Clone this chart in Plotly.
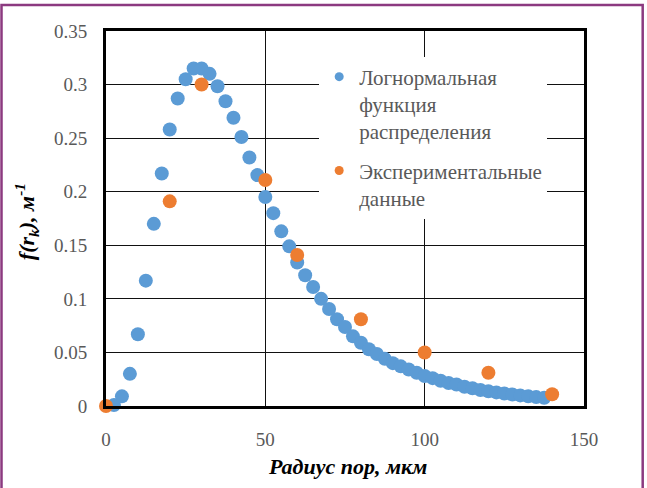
import plotly.graph_objects as go

# Lognormal distribution function (blue)
logn_r = [2.5, 5, 7.5, 10, 12.5, 15, 17.5, 20, 22.5, 25, 27.5, 30, 32.5, 35, 37.5, 40,
          42.5, 45, 47.5, 50, 52.5, 55, 57.5, 60, 62.5, 65, 67.5, 70, 72.5, 75, 77.5,
          80, 82.5, 85, 87.5, 90, 92.5, 95, 97.5, 100, 102.5, 105, 107.5, 110, 112.5,
          115, 117.5, 120, 122.5, 125, 127.5, 130, 132.5, 135, 137.5]
logn_f = [0.001, 0.009, 0.030, 0.067, 0.117, 0.170, 0.217, 0.258, 0.287, 0.305, 0.315,
          0.315, 0.310, 0.2985, 0.2845, 0.269, 0.251, 0.232, 0.2155, 0.195, 0.180, 0.163,
          0.149, 0.134, 0.122, 0.111, 0.100, 0.0905, 0.081, 0.0737, 0.065, 0.059, 0.053,
          0.0485, 0.044, 0.040, 0.037, 0.034, 0.031, 0.028, 0.026, 0.0235, 0.0215, 0.020,
          0.018, 0.0165, 0.015, 0.0138, 0.0127, 0.0117, 0.0108, 0.0099, 0.0091, 0.0083, 0.0076]

# Experimental data (orange)
exp_r = [0, 20, 30, 50, 60, 80, 100, 120, 140]
exp_f = [0.0, 0.191, 0.300, 0.211, 0.141, 0.081, 0.050, 0.031, 0.011]

x_ticks = [0, 50, 100, 150]
y_ticks = [0, 0.05, 0.1, 0.15, 0.2, 0.25, 0.3, 0.35]
y_tick_text = ["0", "0.05", "0.1", "0.15", "0.2", "0.25", "0.3", "0.35"]

name_logn = "Логнормальная<br>функция<br>распределения"
name_exp = "Экспериментальные<br>данные"

BLUE = "#5B9BD5"
ORANGE = "#ED7D31"
SERIF = "Liberation Serif, DejaVu Serif, serif"

fig = go.Figure()
fig.add_trace(go.Scatter(x=logn_r, y=logn_f, mode="markers", showlegend=False,
                         marker=dict(color=BLUE, size=14), cliponaxis=False))
fig.add_trace(go.Scatter(x=exp_r, y=exp_f, mode="markers", showlegend=False,
                         marker=dict(color=ORANGE, size=14), cliponaxis=False))
# legend entries
fig.add_trace(go.Scatter(x=[None], y=[None], mode="markers", name=name_logn,
                         legendgroup="a", marker=dict(color=BLUE, size=9)))
fig.add_trace(go.Scatter(x=[None], y=[None], mode="markers", name=name_exp,
                         legendgroup="b", marker=dict(color=ORANGE, size=9)))

axis_common = dict(showline=True, linecolor="black", linewidth=3, mirror=True,
                   showgrid=True, gridcolor="#111111", gridwidth=1.2, zeroline=False,
                   tickfont=dict(family=SERIF, size=19, color="#595959"), ticks="")

fig.update_xaxes(range=[0, 150], tickvals=x_ticks, ticklabelstandoff=14, **axis_common)
fig.update_yaxes(range=[0, 0.35], tickvals=y_ticks, ticktext=y_tick_text,
                 ticklabelstandoff=12, **axis_common)

fig.update_layout(
    width=647, height=488,
    margin=dict(l=106, r=63, t=31, b=82),
    paper_bgcolor="white", plot_bgcolor="white",
    legend=dict(x=0.446, y=0.932, xanchor="left", yanchor="top",
                bgcolor="white", borderwidth=0, valign="top",
                font=dict(family=SERIF, size=21, color="#595959"),
                itemwidth=30, tracegroupgap=9),
    annotations=[
        dict(text="<b><i>Радиус пор, мкм</i></b>", xref="paper", yref="paper",
             x=0.506, y=-0.1625, showarrow=False, xanchor="center", yanchor="middle",
             font=dict(family=SERIF, size=22, color="black")),
        dict(text="<b><i>f(r<sub>k</sub>), м<sup>-1</sup></i></b>", xref="paper", yref="paper",
             x=-0.166, y=0.492, showarrow=False, xanchor="center", yanchor="middle",
             textangle=-90, font=dict(family=SERIF, size=22, color="black")),
    ],
    shapes=[dict(type="rect", xref="paper", yref="paper",
                 x0=-0.2186, x1=1.1228, y0=-0.25, y1=1.0693,
                 line=dict(color="#8C3A80", width=2.5), layer="below")],
)

fig.write_html("out.html", config={"displayModeBar": False},
               post_script="document.body.style.margin='0';")
